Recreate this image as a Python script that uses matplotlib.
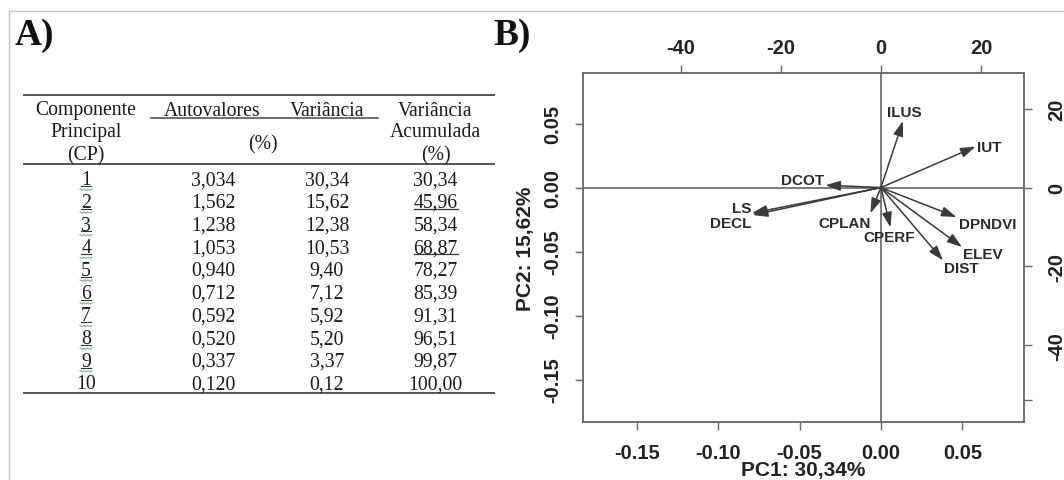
import matplotlib
matplotlib.use("Agg")
import matplotlib.pyplot as plt
import numpy as np
from matplotlib.ticker import FixedLocator

# ---- tabela A) ----
cp = list(range(1, 11))
autovalores = [3.034, 1.562, 1.238, 1.053, 0.940, 0.712, 0.592, 0.520, 0.337, 0.120]
variancia = [30.34, 15.62, 12.38, 10.53, 9.40, 7.12, 5.92, 5.20, 3.37, 0.12]
var_acum = [30.34, 45.96, 58.34, 68.87, 78.27, 85.39, 91.31, 96.51, 99.87, 100.00]
acum_sublinhado = [2, 4]   # CPs com a variancia acumulada sublinhada

# ---- biplot B) ----
variaveis = ["ILUS", "IUT", "DCOT", "LS", "DECL", "CPLAN", "CPERF", "DPNDVI", "ELEV", "DIST"]
load_pc1 = [4.4, 18.9, -11.1, -25.8, -25.6, -2.1, 1.9, 15.1, 16.2, 12.4]
load_pc2 = [16.9, 10.4, 0.6, -6.5, -7.0, -6.5, -10.1, -7.5, -15.1, -18.5]
pc1_pct = "30,34"
pc2_pct = "15,62"
ticks_pc = [-0.15, -0.10, -0.05, 0.00, 0.05]
ticks_load = [-40, -20, 0, 20]

# label offsets (pixels, right / down) relative to arrow tip
label_off = {"ILUS": (1, -9), "IUT": (14, 0), "DCOT": (-23, -5), "LS": (-10, -5),
             "DECL": (-22, 8), "CPLAN": (-26, 10), "CPERF": (-1, 10),
             "DPNDVI": (31, 7), "ELEV": (21, 7), "DIST": (18, 8)}

plt.rcParams["font.family"] = ["Liberation Sans", "DejaVu Sans"]
plt.rcParams["font.weight"] = "bold"
plt.rcParams["axes.labelweight"] = "bold"
plt.rcParams["axes.unicode_minus"] = False

W, H = 1064, 481
fig = plt.figure(figsize=(W / 100, H / 100), dpi=100)
fig.patch.set_facecolor("white")

# background axes in pixel coords (table + frame)
bg = fig.add_axes([0, 0, 1, 1])
bg.set_xlim(0, W)
bg.set_ylim(H, 0)
bg.axis("off")

bg.plot([9, W], [12, 12], color="#c4c4c4", lw=1)
bg.plot([9, 9], [12, H], color="#c4c4c4", lw=1)

serif = ["Liberation Serif", "DejaVu Serif"]
bg.text(15, 45, "A)", fontsize=27, fontweight="bold", family=serif, va="baseline", color="#111")
bg.text(493, 45, "B)", fontsize=27, fontweight="bold", family=serif, va="baseline", color="#111")

fs = 14.2
tc = "#1a1a1a"
rule = "#555555"

def ttext(x, y, s):
    bg.text(x, y, s, fontsize=fs, family=serif, fontweight="normal", ha="center", va="baseline", color=tc)

# rules
bg.plot([24, 494], [95.7, 95.7], color=rule, lw=1.4)
bg.plot([150.7, 377.7], [119, 119], color=rule, lw=1.2)
bg.plot([24, 494], [165.3, 165.3], color=rule, lw=1.4)
bg.plot([24, 494], [394, 394], color=rule, lw=1.4)

col_x = [86, 213, 327, 435.5]
ttext(col_x[0], 115.5, "Componente")
ttext(col_x[0], 137.5, "Principal")
ttext(col_x[0], 160, "(CP)")
ttext(212.5, 115.5, "Autovalores")
ttext(326.7, 115.5, "Variância")
ttext(263, 149, "(%)")
ttext(col_x[3], 115.5, "Variância")
ttext(col_x[3], 137.5, "Acumulada")
ttext(col_x[3], 160, "(%)")

fmt = lambda v, d: f"{v:.{d}f}".replace(".", ",")
y0, dy = 185.2, 22.7
for i, c in enumerate(cp):
    yb = y0 + i * dy
    ttext(col_x[0], yb, str(c))
    ttext(col_x[1], yb, fmt(autovalores[i], 3))
    ttext(col_x[2], yb, fmt(variancia[i], 2))
    ttext(col_x[3], yb, fmt(var_acum[i], 2))
    if c < 10:
        # underline + green grammar squiggle from the source document
        bg.plot([col_x[0] - 5, col_x[0] + 5], [yb + 1.8, yb + 1.8], color="#333", lw=0.8)
        zx = np.linspace(col_x[0] - 6, col_x[0] + 6, 7)
        zy = yb + 5 + np.array([0, 1, 0, 1, 0, 1, 0]) * 1.2
        bg.plot(zx, zy, color="#7fb07f", lw=0.8)
    if c in acum_sublinhado:
        bg.plot([col_x[3] - 22, col_x[3] + 22], [yb + 2, yb + 2], color="#333", lw=0.9)

# ---- panel B ----
left, right, top, bottom = 582.7, 1023.5, 74, 423.3
rect = [left / W, 1 - bottom / H, (right - left) / W, (bottom - top) / H]
ax = fig.add_axes(rect)
ax.set_xlim(-0.1833, 0.0876)
ax.set_ylim(-0.1834, 0.0895)
ax.set_xticks(ticks_pc)
ax.set_xticklabels([f"{t:.2f}" for t in ticks_pc])
ax.set_yticks(ticks_pc)
ax.set_yticklabels([f"{t:.2f}" for t in ticks_pc], rotation=90, va="center")
ax.tick_params(axis="both", length=5.8, width=1, color="#666", labelsize=14.5, labelcolor="#222")
ax.tick_params(axis="x", pad=9)
ax.tick_params(axis="y", pad=9)
ax.set_xlabel(f"PC1: {pc1_pct}%", fontsize=15, color="#222", labelpad=-1)
ax.set_ylabel(f"PC2: {pc2_pct}%", fontsize=15, color="#222", labelpad=6)
for s in ax.spines.values():
    s.set_color("#666")
    s.set_linewidth(1.3)

# loadings axes (top / right), same box
sc = 325.0
ax2 = fig.add_axes(rect)
ax2.patch.set_alpha(0)
ax2.set_xlim(-0.1833 * sc, 0.0876 * sc)
ax2.set_ylim(-0.1834 * sc, 0.0895 * sc)
ax2.xaxis.tick_top()
ax2.yaxis.tick_right()
ax2.set_xticks(ticks_load)
ax2.set_yticks(ticks_load)
ax2.set_yticklabels([str(t) for t in ticks_load], rotation=90, va="center")
ax2.yaxis.set_minor_locator(FixedLocator([-54]))
ax2.tick_params(axis="both", which="both", length=5.8, width=1, color="#666", labelsize=14.5, labelcolor="#222")
ax2.tick_params(axis="x", pad=6)
ax2.tick_params(axis="y", pad=11)
for s in ax2.spines.values():
    s.set_visible(False)

ax2.axhline(0, color="#666", lw=1.2, zorder=1)
ax2.axvline(0, color="#666", lw=1.2, zorder=1)

for name, x, y in zip(variaveis, load_pc1, load_pc2):
    ax2.annotate("", xy=(x, y), xytext=(0, 0),
                 arrowprops=dict(arrowstyle="-|>,head_length=0.9,head_width=0.3",
                                 color="#3a3a3a", lw=1.1, shrinkA=0, shrinkB=0))
    dx, dy_ = label_off[name]
    ax2.annotate(name, xy=(x, y), xytext=(dx * 0.72, -dy_ * 0.72), textcoords="offset points",
                 ha="center", va="center", fontsize=11, fontweight="bold", color="#2a2a2a")

fig.savefig("out.png", dpi=100)
